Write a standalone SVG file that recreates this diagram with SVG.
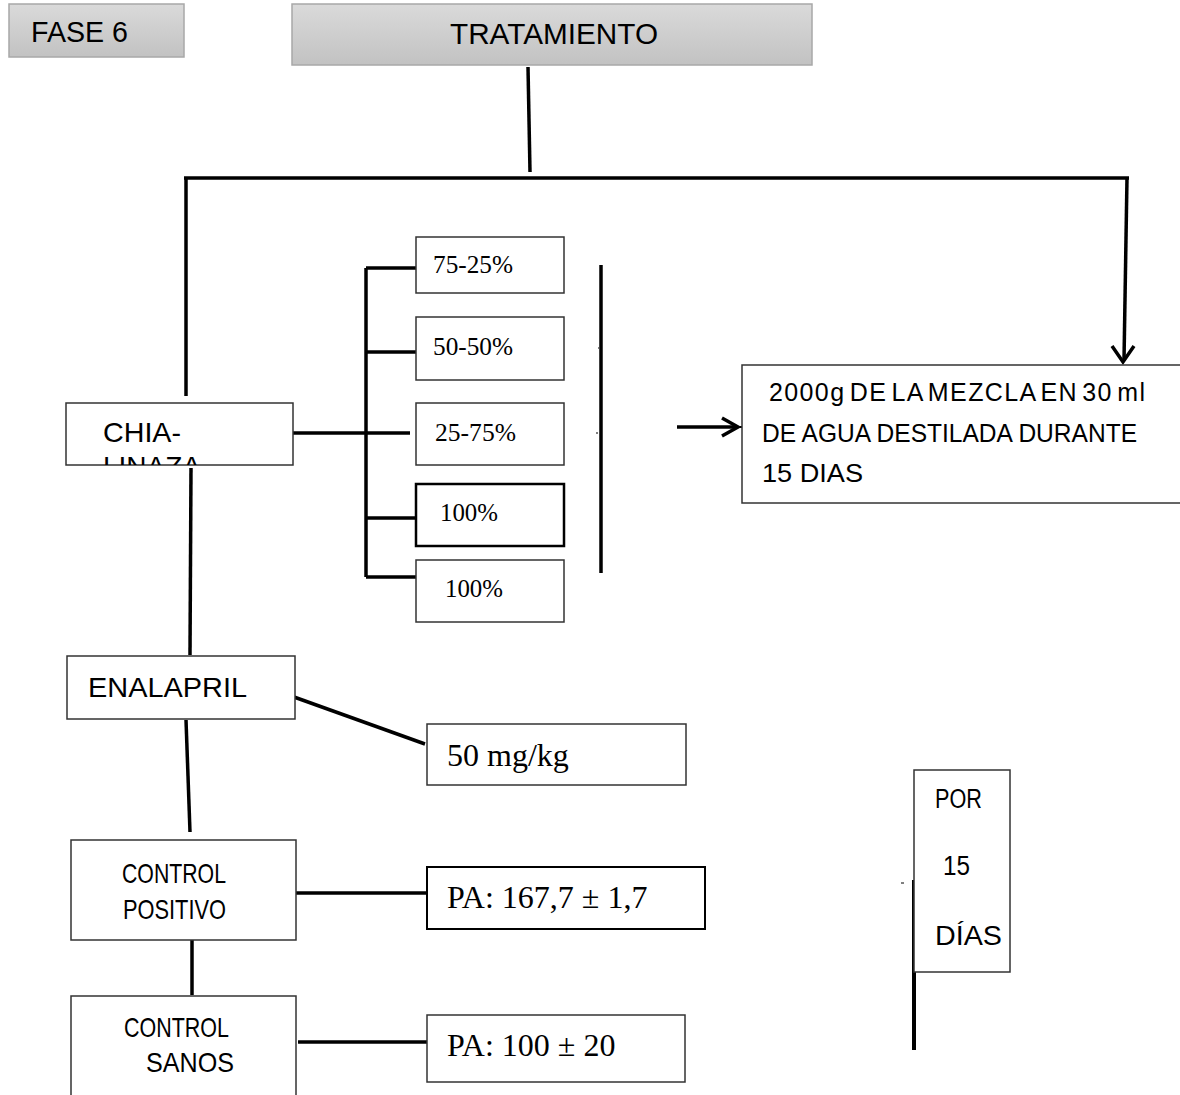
<svg xmlns="http://www.w3.org/2000/svg" width="1180" height="1095" viewBox="0 0 1180 1095">
<style>
.box{fill:#fff;stroke:#333;stroke-width:1.5}
.gbox{fill:url(#g);stroke:#a8a8a8;stroke-width:1.5}
.s{font-family:"Liberation Sans",Arial,sans-serif;fill:#000}
.t{font-family:"Liberation Serif","Times New Roman",serif;fill:#000}
.ln{stroke:#000;stroke-width:3.5;fill:none}
</style>
<defs>
<linearGradient id="g" x1="0" y1="0" x2="0" y2="1">
<stop offset="0" stop-color="#dadada"/>
<stop offset="1" stop-color="#c2c2c2"/>
</linearGradient>
<clipPath id="chiaClip"><rect x="66" y="403" width="227" height="62"/></clipPath>
</defs>
<g id="fase6">
<rect class="gbox" x="9" y="4" width="175" height="53"/>
<text class="s" x="31" y="42" font-size="29" textLength="97" lengthAdjust="spacingAndGlyphs">FASE 6</text>
</g>
<g id="tratamiento">
<rect class="gbox" x="292" y="4" width="520" height="61"/>
<text class="s" x="450" y="44" font-size="29" textLength="208" lengthAdjust="spacingAndGlyphs">TRATAMIENTO</text>
</g>
<g id="connectors">
<line class="ln" x1="528" y1="67" x2="530" y2="172"/>
<line class="ln" x1="184" y1="178" x2="1129" y2="178"/>
<line class="ln" x1="186" y1="178" x2="186" y2="396"/>
<line class="ln" x1="1127" y1="178" x2="1124" y2="360"/>
<polyline class="ln" points="1112,346 1123,362 1134,346"/>
<line class="ln" x1="293" y1="433" x2="410" y2="433"/>
<line class="ln" x1="366" y1="268" x2="366" y2="577"/>
<line class="ln" x1="366" y1="268" x2="418" y2="268"/>
<line class="ln" x1="366" y1="352" x2="416" y2="352"/>
<line class="ln" x1="366" y1="518" x2="422" y2="518"/>
<line class="ln" x1="366" y1="577" x2="416" y2="577"/>
<line class="ln" x1="601" y1="265" x2="601" y2="573"/>
<line stroke="#000" stroke-width="1" x1="596" y1="433" x2="598" y2="433"/>
<line stroke="#000" stroke-width="1" x1="598" y1="348" x2="599" y2="348"/>
<line class="ln" x1="677" y1="427" x2="736" y2="427"/>
<polyline class="ln" points="722,418 738,427 722,436"/>
<rect x="740" y="426" width="3" height="2" fill="#000"/>
<line class="ln" x1="191" y1="468" x2="190" y2="655"/>
<line class="ln" x1="186" y1="720" x2="190" y2="832"/>
<line class="ln" x1="294" y1="697" x2="425" y2="744"/>
<line class="ln" x1="295" y1="893" x2="428" y2="893"/>
<line class="ln" x1="192" y1="940" x2="192" y2="995"/>
<line class="ln" x1="298" y1="1042" x2="428" y2="1042"/>
<line stroke="#000" stroke-width="4" x1="914" y1="880" x2="914" y2="1050"/>
<line stroke="#000" stroke-width="1" x1="901" y1="883" x2="904" y2="883"/>
</g>
<g id="chia">
<rect class="box" x="66" y="403" width="227" height="62"/>
<g clip-path="url(#chiaClip)">
<text class="s" x="103" y="442" font-size="28" textLength="78" lengthAdjust="spacingAndGlyphs">CHIA-</text>
<text class="s" x="103" y="476" font-size="28">LINAZA</text>
</g>
</g>
<g id="p1">
<rect class="box" x="416" y="237" width="148" height="56"/>
<text class="t" x="433" y="273" font-size="26" textLength="80" lengthAdjust="spacingAndGlyphs">75-25%</text>
</g>
<g id="p2">
<rect class="box" x="416" y="317" width="148" height="63"/>
<text class="t" x="433" y="355" font-size="26" textLength="80" lengthAdjust="spacingAndGlyphs">50-50%</text>
</g>
<g id="p3">
<rect class="box" x="416" y="403" width="148" height="62"/>
<text class="t" x="435" y="441" font-size="26" textLength="81" lengthAdjust="spacingAndGlyphs">25-75%</text>
</g>
<g id="p4">
<rect x="416" y="484" width="148" height="62" fill="#fff" stroke="#000" stroke-width="2.5"/>
<text class="t" x="440" y="521" font-size="26" textLength="58" lengthAdjust="spacingAndGlyphs">100%</text>
</g>
<g id="p5">
<rect class="box" x="416" y="560" width="148" height="62"/>
<text class="t" x="445" y="597" font-size="26" textLength="58" lengthAdjust="spacingAndGlyphs">100%</text>
</g>
<g id="mezcla">
<rect class="box" x="742" y="365" width="450" height="138"/>
<text class="s" x="769" y="401" font-size="25" word-spacing="-4" textLength="376" lengthAdjust="spacing">2000g DE LA MEZCLA EN 30 ml</text>
<text class="s" x="762" y="442" font-size="25" textLength="375" lengthAdjust="spacingAndGlyphs">DE AGUA DESTILADA DURANTE</text>
<text class="s" x="762" y="482" font-size="25" textLength="101" lengthAdjust="spacingAndGlyphs">15 DIAS</text>
</g>
<g id="enalapril">
<rect class="box" x="67" y="656" width="228" height="63"/>
<text class="s" x="88" y="697" font-size="28" textLength="159" lengthAdjust="spacingAndGlyphs">ENALAPRIL</text>
</g>
<g id="dosis">
<rect class="box" x="427" y="724" width="259" height="61"/>
<text class="t" x="447" y="766" font-size="32">50 mg/kg</text>
</g>
<g id="control-positivo">
<rect class="box" x="71" y="840" width="225" height="100"/>
<text class="s" x="122" y="883" font-size="28" textLength="104" lengthAdjust="spacingAndGlyphs">CONTROL</text>
<text class="s" x="123" y="919" font-size="28" textLength="103" lengthAdjust="spacingAndGlyphs">POSITIVO</text>
</g>
<g id="pa-positivo">
<rect x="427" y="867" width="278" height="62" fill="#fff" stroke="#000" stroke-width="2"/>
<text class="t" x="447" y="908" font-size="32">PA: 167,7 ± 1,7</text>
</g>
<g id="control-sanos">
<rect class="box" x="71" y="996" width="225" height="110"/>
<text class="s" x="124" y="1037" font-size="28" textLength="105" lengthAdjust="spacingAndGlyphs">CONTROL</text>
<text class="s" x="146" y="1072" font-size="28" textLength="88" lengthAdjust="spacingAndGlyphs">SANOS</text>
</g>
<g id="pa-sanos">
<rect class="box" x="427" y="1015" width="258" height="67"/>
<text class="t" x="447" y="1056" font-size="32">PA: 100 ± 20</text>
</g>
<g id="por15">
<rect class="box" x="914" y="770" width="96" height="202"/>
<text class="s" x="935" y="808" font-size="27" textLength="47" lengthAdjust="spacingAndGlyphs">POR</text>
<text class="s" x="943" y="875" font-size="27" textLength="27" lengthAdjust="spacingAndGlyphs">15</text>
<text class="s" x="935" y="945" font-size="27" textLength="67" lengthAdjust="spacingAndGlyphs">DÍAS</text>
</g>
</svg>
